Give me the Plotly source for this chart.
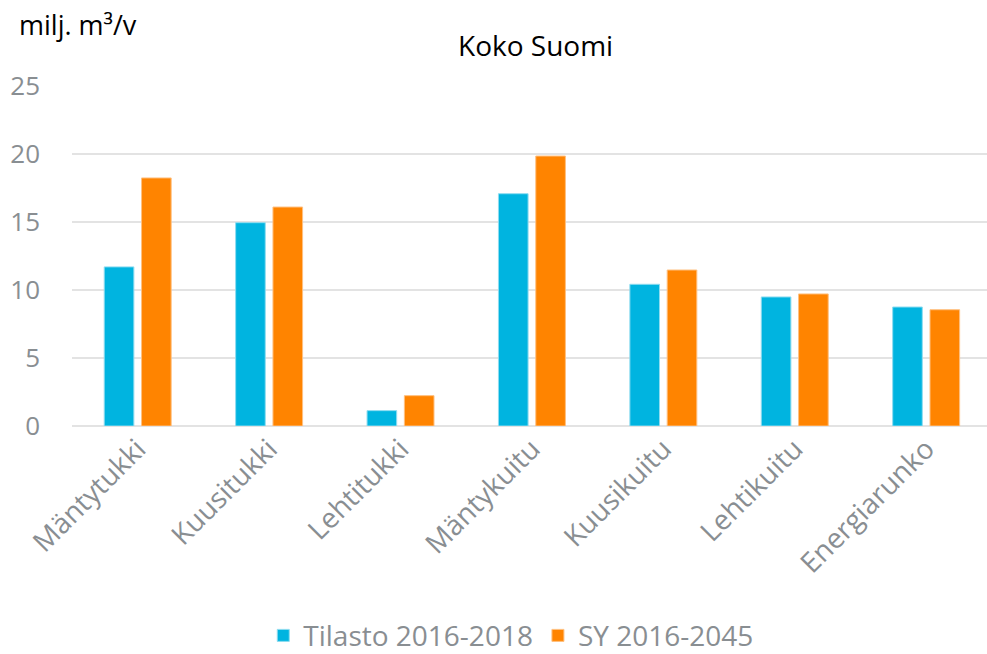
import plotly.graph_objects as go

categories = ['Mäntytukki', 'Kuusitukki', 'Lehtitukki', 'Mäntykuitu',
              'Kuusikuitu', 'Lehtikuitu', 'Energiarunko']
tilasto = [11.7, 14.95, 1.13, 17.08, 10.42, 9.49, 8.75]
sy = [18.24, 16.1, 2.23, 19.85, 11.47, 9.71, 8.55]

font_family = "Open Sans"
tick_grey = "#898e92"

fig = go.Figure()
fig.add_trace(go.Bar(x=categories, y=tilasto, name='Tilasto 2016-2018',
                     marker=dict(color='#00b4e0', line=dict(color='#8fdcf0', width=1))))
fig.add_trace(go.Bar(x=categories, y=sy, name='SY 2016-2045',
                     marker=dict(color='#ff8400', line=dict(color='#ffc080', width=1))))

fig.update_layout(
    width=987, height=654,
    margin=dict(l=72, r=0, t=86, b=228, autoexpand=False),
    paper_bgcolor='white', plot_bgcolor='white',
    font=dict(family=font_family, size=28, color=tick_grey),
    barmode='group', bargap=0.432, bargroupgap=0.206,
    showlegend=True,
    legend=dict(orientation='h', xref='container', yref='container',
                x=0.518, xanchor='center', y=0.028, yanchor='middle',
                font=dict(size=28, color=tick_grey), itemwidth=30),
    annotations=[
        dict(text='Koko Suomi', xref='paper', yref='paper', x=0.507, y=1.12,
             xanchor='center', yanchor='middle', showarrow=False,
             font=dict(size=28, color='black')),
        dict(text='milj. m³/v', xref='paper', yref='paper',
             x=-0.06, y=1.18, xanchor='left', yanchor='middle', showarrow=False,
             font=dict(size=27, color='black')),
    ],
)

fig.update_xaxes(tickangle=-45, showgrid=False, showline=False, ticks='', automargin=False,
                 range=[-0.5, 6.463], tickfont=dict(size=28, color=tick_grey))
fig.update_yaxes(range=[0, 25], dtick=5, showgrid=True, gridcolor='#e3e3e3', gridwidth=2,
                 zeroline=True, zerolinecolor='#e3e3e3', zerolinewidth=2, automargin=False,
                 showline=False, ticks='', ticklabelstandoff=31,
                 tickfont=dict(size=26, color=tick_grey))

config = {'displayModeBar': False}

# drop the default 8px body margin so the figure fills the window
fig.write_html("out.html", config=config, post_script="document.body.style.margin = '0';")
